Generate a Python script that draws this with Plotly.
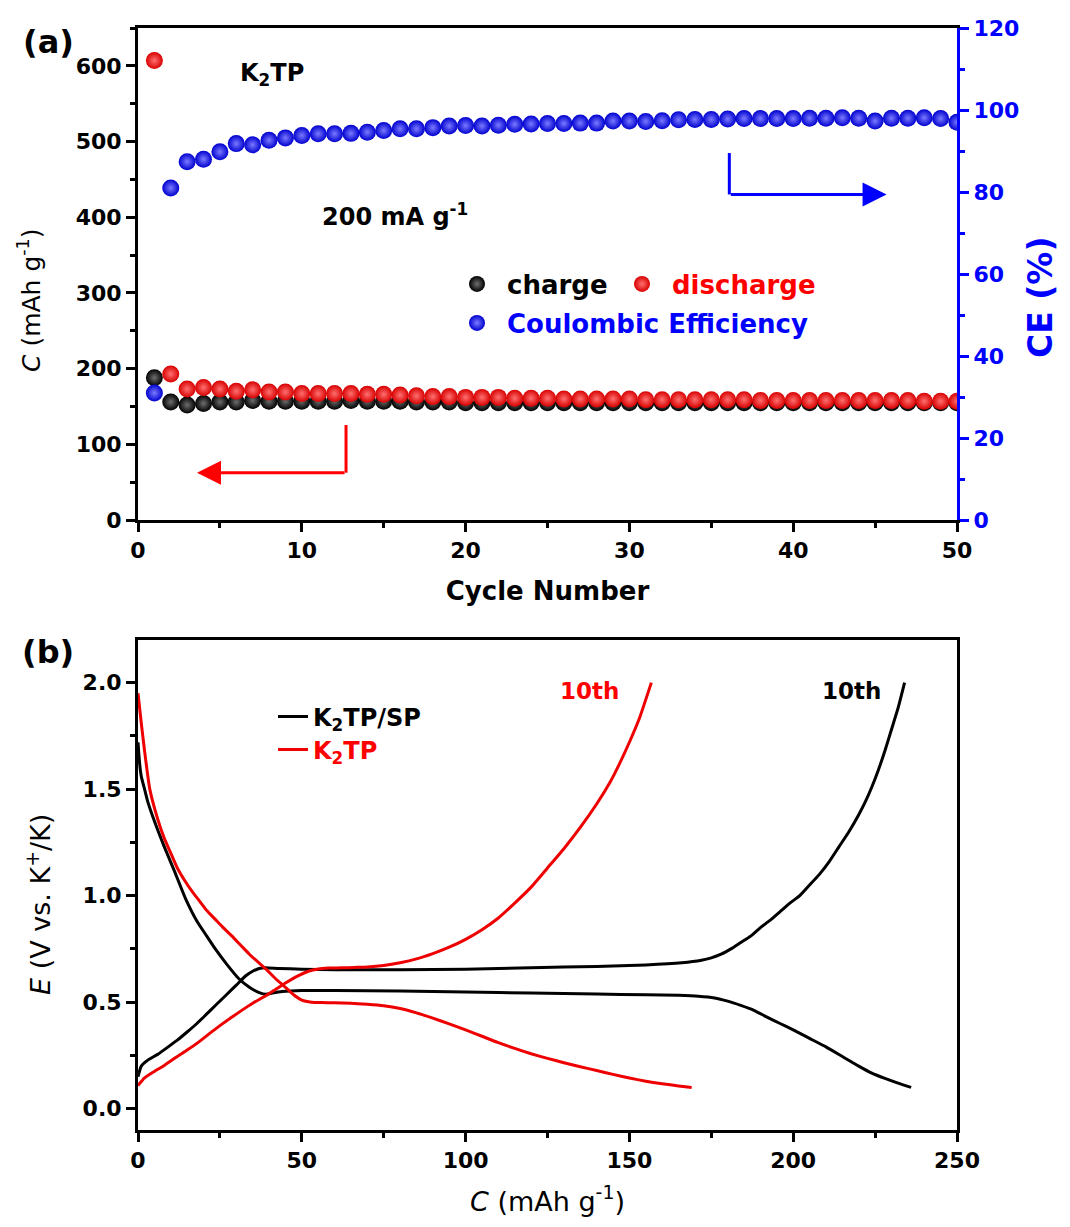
import plotly.graph_objects as go

# ---------------- data: panel (a) ----------------
cycles = list(range(1, 51))
charge = [188, 156, 152, 154, 156, 156, 158, 157, 157, 157,
          157, 157, 158, 157, 157, 157, 156, 156, 156, 155,
          155, 155, 155, 155, 155, 155, 155, 155, 155, 155,
          155, 155, 155, 155, 155, 155, 155, 155, 155, 155,
          155, 155, 155, 155, 155, 155, 155, 155, 155, 155]
discharge = [607, 193, 173, 175, 173, 170, 172, 169, 169, 167,
             167, 167, 167, 166, 166, 165, 164, 163, 163, 162,
             162, 162, 161, 161, 161, 160, 160, 160, 160, 160,
             159, 159, 159, 159, 159, 159, 159, 158, 158, 158,
             158, 158, 158, 158, 158, 158, 158, 157, 157, 157]
ce = [31, 81, 87.4, 88, 89.8, 91.8, 91.5, 92.6, 93.2, 93.8,
      94.2, 94.2, 94.3, 94.6, 95.0, 95.4, 95.4, 95.7, 96.1, 96.2,
      96.1, 96.3, 96.5, 96.6, 96.7, 96.7, 96.8, 96.8, 97.3, 97.3,
      97.2, 97.4, 97.6, 97.7, 97.7, 97.8, 97.9, 97.9, 97.9, 97.9,
      98.0, 98.0, 98.1, 98.0, 97.3, 98.0, 98.0, 98.1, 97.9, 97.0]

# ---------------- data: panel (b) ----------------
sp_dis_c = [0, 0.5, 1, 2, 3, 5, 8, 11, 14.4, 18, 21, 23.6, 27, 30.8, 34, 37, 39, 41, 44,
            50, 60, 80, 100, 120, 140, 155, 165, 171, 176, 180, 184, 188, 192, 196, 200,
            205, 210, 215, 220, 224, 228, 232, 236]
sp_dis_v = [1.72, 1.62, 1.56, 1.5, 1.44, 1.35, 1.23, 1.12, 0.99, 0.88, 0.81, 0.75, 0.68,
            0.61, 0.57, 0.545, 0.537, 0.543, 0.55, 0.555, 0.555, 0.552, 0.548, 0.543, 0.538,
            0.535, 0.532, 0.528, 0.52, 0.505, 0.485, 0.462, 0.43, 0.4, 0.37, 0.33, 0.29,
            0.245, 0.2, 0.167, 0.142, 0.12, 0.1]
sp_chg_c = [0, 1, 3, 6, 9, 12, 15, 18, 21, 24, 27, 30, 33, 35, 37, 39, 43, 50, 60, 80, 100,
            120, 140, 155, 166, 172, 175, 178, 181, 184, 187, 190, 193, 196, 199, 202, 205,
            208, 211, 214, 217, 220, 222, 224, 226, 228, 230, 232, 234]
sp_chg_v = [0.15, 0.2, 0.228, 0.255, 0.288, 0.322, 0.36, 0.4, 0.445, 0.49, 0.535, 0.58, 0.625,
            0.645, 0.658, 0.662, 0.658, 0.655, 0.652, 0.652, 0.655, 0.662, 0.668, 0.675,
            0.685, 0.697, 0.708, 0.725, 0.75, 0.78, 0.81, 0.85, 0.885, 0.925, 0.965, 1.0,
            1.05, 1.1, 1.16, 1.23, 1.3, 1.38, 1.44, 1.51, 1.59, 1.68, 1.78, 1.88, 2.0]
tp_dis_c = [0, 0.5, 1, 2, 3.6, 6, 8, 10, 12, 14.3, 16.5, 18.5, 21, 23.5, 26, 28.7, 31.5, 34,
            36.5, 39, 42, 45, 47.5, 50, 53, 56, 60, 65, 70, 75, 80, 85, 90, 95, 100, 105,
            110, 115, 120, 125, 130, 135, 140, 145, 150, 155, 160, 165, 169]
tp_dis_v = [1.95, 1.88, 1.81, 1.68, 1.5, 1.36, 1.27, 1.2, 1.13, 1.07, 1.02, 0.98, 0.93, 0.89,
            0.85, 0.81, 0.765, 0.725, 0.69, 0.656, 0.61, 0.57, 0.535, 0.51, 0.5, 0.498,
            0.497, 0.495, 0.49, 0.483, 0.47, 0.45, 0.425, 0.398, 0.37, 0.34, 0.31, 0.283,
            0.258, 0.236, 0.216, 0.197, 0.179, 0.161, 0.144, 0.129, 0.117, 0.107, 0.1]
tp_chg_c = [0, 2, 5, 8, 12, 15, 18.5, 22, 25, 28.7, 32, 35, 39, 42, 45, 49, 52, 55, 58, 62,
            66, 70, 75, 80, 85, 90, 95, 100, 105, 110, 115, 120, 125, 130, 135, 140, 144,
            147, 150, 153, 156.7]
tp_chg_v = [0.109, 0.145, 0.175, 0.203, 0.245, 0.275, 0.3125, 0.355, 0.39, 0.43, 0.465, 0.495,
            0.53, 0.56, 0.59, 0.625, 0.645, 0.656, 0.66, 0.661, 0.663, 0.665, 0.672, 0.685,
            0.703, 0.728, 0.758, 0.795, 0.84, 0.895, 0.965, 1.04, 1.13, 1.22, 1.32, 1.43,
            1.53, 1.62, 1.72, 1.83, 2.0]

FONT = "DejaVu Sans"
RED = "#ff0000"
BLUE = "#0000ff"
BLACK = "#000000"

fig = go.Figure()


def sphere(edge, center):
    return dict(size=17, color=edge, gradient=dict(type="radial", color=center), line=dict(width=0))


fig.add_trace(go.Scatter(x=cycles, y=charge, mode="markers", name="charge",
                         xaxis="x", yaxis="y", legend="legend",
                         marker=sphere("#000000", "#6e6e6e")))
fig.add_trace(go.Scatter(x=cycles, y=discharge, mode="markers", name="discharge",
                         xaxis="x", yaxis="y", legend="legend2",
                         marker=sphere("#d80000", "#ff7070")))
fig.add_trace(go.Scatter(x=cycles, y=ce, mode="markers", name="Coulombic Efficiency",
                         xaxis="x", yaxis="y2", legend="legend3",
                         marker=sphere("#0000d0", "#7a7aff")))

LINE_BLACK = dict(color=BLACK, width=3, shape="spline", smoothing=0.5)
LINE_RED = dict(color="#ee0000", width=3, shape="spline", smoothing=0.5)
fig.add_trace(go.Scatter(x=sp_dis_c, y=sp_dis_v, mode="lines", name="K<sub>2</sub>TP/SP",
                         xaxis="x2", yaxis="y3", legend="legend4", line=LINE_BLACK))
fig.add_trace(go.Scatter(x=sp_chg_c, y=sp_chg_v, mode="lines", showlegend=False,
                         xaxis="x2", yaxis="y3", line=LINE_BLACK))
fig.add_trace(go.Scatter(x=tp_dis_c, y=tp_dis_v, mode="lines", name="K<sub>2</sub>TP",
                         xaxis="x2", yaxis="y3", legend="legend5", line=LINE_RED))
fig.add_trace(go.Scatter(x=tp_chg_c, y=tp_chg_v, mode="lines", showlegend=False,
                         xaxis="x2", yaxis="y3", line=LINE_RED))


def axis(color=BLACK, **kw):
    d = dict(showline=True, linewidth=3, linecolor=color, ticks="outside", ticklen=9,
             tickwidth=3, tickcolor=color, showgrid=False, zeroline=False, automargin=False,
             tickfont=dict(family=FONT, size=22, color=color, weight="bold"))
    d.update(kw)
    return d


def leg(x, y, color, size=26, itemwidth=50):
    return dict(x=x, y=y, xanchor="left", yanchor="middle", bgcolor="rgba(0,0,0,0)",
                borderwidth=0, itemsizing="trace", itemwidth=itemwidth,
                font=dict(family=FONT, size=size, color=color, weight="bold"))


PX = lambda px: (px - 138) / 819.0
PY = lambda py: (1130 - py) / 1102.0

fig.update_layout(
    width=1070, height=1227, template="none",
    margin=dict(l=138, r=113, t=28, b=97),
    paper_bgcolor="white", plot_bgcolor="white",
    font=dict(family=FONT, size=22, color=BLACK),
    xaxis=axis(domain=[0, 1], anchor="y", range=[0, 50], dtick=10, mirror=True,
               minor=dict(ticks="outside", ticklen=5, tickwidth=3, tickcolor=BLACK, dtick=5),
               title=dict(text="Cycle Number", standoff=20,
                          font=dict(family=FONT, size=26, weight="bold"))),
    yaxis=axis(domain=[PY(520), 1], anchor="x", range=[0, 650], dtick=100,
               minor=dict(ticks="outside", ticklen=5, tickwidth=3, tickcolor=BLACK, dtick=50)),
    yaxis2=axis(color=BLUE, overlaying="y", side="right", anchor="x", range=[0, 120], dtick=20,
                minor=dict(ticks="outside", ticklen=5, tickwidth=3, tickcolor=BLUE, dtick=10)),
    xaxis2=axis(domain=[0, 1], anchor="y3", range=[0, 250], dtick=50, mirror=True,
                minor=dict(ticks="outside", ticklen=5, tickwidth=3, tickcolor=BLACK, dtick=25),
                title=dict(text="<i>C</i> (mAh g<sup>-1</sup>)", standoff=20,
                           font=dict(family=FONT, size=27))),
    yaxis3=axis(domain=[0, PY(640)], anchor="x2", range=[-0.1, 2.2], dtick=0.5,
                tickformat=".1f", mirror=True,
                minor=dict(ticks="outside", ticklen=5, tickwidth=3, tickcolor=BLACK, dtick=0.25)),
    legend=leg(PX(447), PY(284), BLACK),
    legend2=leg(PX(612), PY(284), RED),
    legend3=leg(PX(447), PY(323), BLUE),
    legend4=leg(PX(273), PY(717), BLACK, size=24, itemwidth=30),
    legend5=leg(PX(273), PY(750), RED, size=24, itemwidth=30),
)

# arrows in panel (a)
fig.add_shape(type="line", xref="x", yref="y", x0=12.7, x1=12.7, y0=125.5, y1=62.5,
              line=dict(color=RED, width=3))
fig.add_annotation(xref="x", yref="y", axref="x", ayref="y", x=3.6, y=62.5, ax=12.7, ay=62.5,
                   text="", showarrow=True, arrowhead=2, arrowsize=1.6, arrowwidth=3,
                   arrowcolor=RED)
fig.add_shape(type="line", xref="x", yref="y2", x0=36.1, x1=36.1, y0=89.5, y1=79.4,
              line=dict(color=BLUE, width=3))
fig.add_annotation(xref="x", yref="y2", axref="x", ayref="y2", x=45.7, y=79.4, ax=36.1, ay=79.4,
                   text="", showarrow=True, arrowhead=2, arrowsize=1.6, arrowwidth=3,
                   arrowcolor=BLUE)

# axis titles placed as annotations (to match reference offsets)
fig.add_annotation(xref="paper", yref="paper", x=PX(30), y=PY(300), textangle=-90,
                   xanchor="center", yanchor="middle", showarrow=False,
                   text="<i>C</i> (mAh g<sup>-1</sup>)", font=dict(family=FONT, size=25, color=BLACK))
fig.add_annotation(xref="paper", yref="paper", x=PX(1041), y=PY(298), textangle=-90,
                   xanchor="center", yanchor="middle", showarrow=False,
                   text="CE (%)", font=dict(family=FONT, size=33, color=BLUE, weight="bold"))
fig.add_annotation(xref="paper", yref="paper", x=PX(38), y=PY(905), textangle=-90,
                   xanchor="center", yanchor="middle", showarrow=False,
                   text="<i>E</i> (V vs. K<sup>+</sup>/K)", font=dict(family=FONT, size=27, color=BLACK))

# text annotations
txt = dict(showarrow=False, xanchor="center", yanchor="middle",
           font=dict(family=FONT, size=24, color=BLACK, weight="bold"))
fig.add_annotation(xref="x", yref="y", x=8.2, y=588, text="K<sub>2</sub>TP", **txt)
fig.add_annotation(xref="x", yref="y", x=15.7, y=403, text="200 mA g<sup>-1</sup>", **txt)
fig.add_annotation(xref="x2", yref="y3", x=137.9, y=1.96, text="10th", showarrow=False,
                   font=dict(family=FONT, size=23, color=RED, weight="bold"))
fig.add_annotation(xref="x2", yref="y3", x=217.8, y=1.96, text="10th", showarrow=False,
                   font=dict(family=FONT, size=23, color=BLACK, weight="bold"))
fig.add_annotation(xref="paper", yref="paper", x=PX(48), y=PY(42), text="(a)",
                   xanchor="center", yanchor="middle", showarrow=False,
                   font=dict(family=FONT, size=32, color=BLACK, weight="bold"))
fig.add_annotation(xref="paper", yref="paper", x=PX(48), y=PY(652), text="(b)",
                   xanchor="center", yanchor="middle", showarrow=False,
                   font=dict(family=FONT, size=32, color=BLACK, weight="bold"))

fig.write_html("out.html")
